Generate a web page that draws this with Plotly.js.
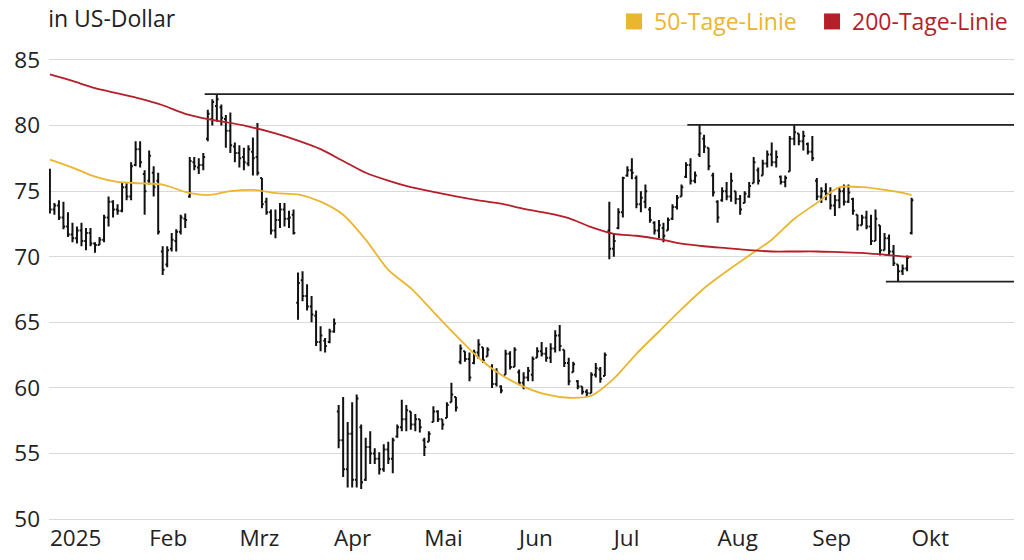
<!DOCTYPE html>
<html><head><meta charset="utf-8">
<script src="https://cdn.plot.ly/plotly-3.0.1.min.js"></script>
<style>html,body{margin:0;padding:0;background:#fff}#chart{width:1024px;height:560px}</style>
</head><body><div id="chart"></div>
<script>
// Trading-day OHLC values, one entry per session from 2 Jan 2025
const opens = [
76.3,73.6,73.9,73.0,72.3,71.7,71.4,72.0,71.2,71.8,
71.0,70.9,71.3,73.0,74.2,73.6,73.5,75.3,74.6,77.0,
78.2,76.3,75.8,76.4,75.8,70.4,69.4,70.6,71.2,71.9,
72.9,74.6,77.2,76.8,77.0,79.0,80.5,81.5,81.4,80.5,
79.6,78.4,77.9,77.6,77.1,78.0,77.6,76.0,74.2,73.4,
72.0,72.8,73.6,72.9,73.2,66.5,68.2,67.0,66.2,65.5,
63.5,63.6,63.5,64.3,
58.2,56.0,53.8,56.5,53.0,57.0,53.0,55.5,55.0,54.6,
53.8,55.3,54.6,56.3,57.0,57.6,58.2,57.2,57.6,56.0,
55.9,57.4,58.2,57.6,57.7,58.9,59.3,
62.0,62.8,62.2,61.9,62.7,63.1,62.4,61.6,60.3,60.1,
61.0,62.6,61.6,61.2,60.4,60.8,61.0,62.3,62.8,62.6,
62.3,63.0,64.0,62.9,61.9,61.2,60.5,60.1,59.7,59.6,
61.0,61.4,60.9,
72.0,70.6,72.2,73.4,76.2,76.6,76.0,74.0,74.2,73.6,
72.6,72.0,72.2,72.0,72.9,73.8,74.6,76.1,77.0,75.8,
77.8,79.0,78.3,76.2,74.2,74.3,75.0,74.6,75.0,74.4,
74.1,74.6,75.6,
76.6,76.2,77.1,77.8,77.2,76.1,75.7,76.5,79.0,79.4,
78.8,78.6,78.0,75.8,74.6,75.0,74.8,73.9,74.3,75.0,
74.2,74.4,73.2,72.4,73.0,72.3,71.2,72.4,70.5,71.4,
70.4,69.4,68.9,69.1,71.8];
const highs = [
76.7,74.1,74.3,74.2,73.4,72.6,72.3,72.6,72.2,72.2,
71.1,71.5,73.2,74.6,74.3,74.0,75.7,75.6,77.2,78.8,
78.8,76.6,78.1,76.9,76.4,70.8,70.8,71.8,72.1,73.2,
73.3,77.6,77.6,77.5,77.9,81.2,82.0,82.4,81.6,80.8,
81.0,78.7,78.5,78.3,78.5,79.1,80.2,76.0,74.5,73.6,
73.6,74.1,74.1,73.5,73.6,68.8,68.9,67.9,67.0,65.9,
64.7,63.8,64.5,65.3,
58.7,59.3,57.4,58.9,59.5,57.2,56.2,56.7,55.4,55.1,
55.7,55.9,56.2,57.2,59.1,58.7,58.2,58.0,57.6,56.2,
56.7,58.6,58.3,57.6,58.9,60.4,59.3,
63.3,62.8,62.7,62.9,63.7,63.1,63.1,61.8,61.5,60.2,
62.9,62.8,63.1,61.4,61.2,61.6,62.4,63.1,63.5,63.1,
63.4,64.4,64.8,62.9,62.3,62.0,60.6,60.1,59.9,61.2,
61.9,61.6,62.7,
74.2,71.8,73.7,76.1,76.9,77.5,76.2,75.0,75.5,73.8,
72.7,72.8,72.6,73.0,74.0,74.7,75.5,77.2,77.5,76.5,
80.05,79.3,78.3,76.4,74.3,75.3,75.7,76.4,75.0,74.7,
75.0,75.7,77.6,
76.8,77.4,78.1,78.7,78.1,76.2,76.2,79.2,80.1,79.4,
79.6,78.7,79.2,76.0,75.3,75.6,75.3,74.7,75.3,75.5,
75.5,74.5,73.2,73.2,73.5,73.2,73.6,72.4,71.8,71.7,
70.9,69.4,69.4,70.1,74.5];
const lows = [
73.3,73.2,72.8,72.1,71.5,71.1,71.0,70.8,70.5,70.8,
70.3,70.9,71.1,72.3,73.0,73.2,73.4,74.3,74.3,76.9,
76.8,73.2,75.5,74.6,71.7,68.6,69.2,70.4,70.4,71.7,
72.2,74.5,76.6,76.3,76.6,78.8,80.0,80.3,80.0,78.3,
77.9,77.2,76.8,76.6,76.9,76.2,76.2,73.7,73.2,71.7,
71.4,72.2,72.3,72.2,71.7,65.2,66.6,65.9,65.0,63.2,
62.8,62.7,63.4,64.2,
55.4,53.2,52.4,52.4,52.4,52.3,52.9,54.2,54.2,53.4,
53.6,54.2,53.5,56.2,56.7,56.7,56.8,56.7,56.6,54.8,
55.9,57.4,57.4,56.8,57.7,58.9,58.2,
61.8,62.0,60.5,61.8,62.2,61.9,62.4,60.0,60.1,59.6,
61.0,61.4,61.6,60.2,59.9,60.5,60.5,62.3,62.4,62.0,
61.9,62.7,62.8,61.6,60.2,61.2,59.9,59.5,59.3,59.6,
60.8,60.4,60.9,
69.8,70.0,72.1,73.0,76.1,75.9,73.7,73.4,73.7,72.6,
71.7,71.4,71.1,72.0,72.8,73.6,74.6,76.0,75.5,75.6,
77.6,77.9,76.6,74.6,72.6,74.2,74.3,74.2,74.0,73.2,
74.1,74.5,75.6,
75.5,76.2,76.8,76.9,76.8,75.5,75.3,76.5,78.5,78.5,
78.1,77.8,77.3,74.3,74.1,74.3,73.6,73.1,73.7,73.9,
74.1,73.2,72.0,72.4,72.1,70.9,71.2,70.1,70.5,70.1,
69.3,68.1,68.6,68.9,71.7];
const closes = [
73.6,73.9,73.0,72.3,71.7,71.4,72.0,71.2,71.8,71.0,
70.9,71.3,73.0,74.2,73.6,73.5,75.3,74.6,76.9,78.2,
77.2,75.0,77.7,75.3,71.9,69.0,70.5,71.3,71.9,73.0,
72.8,77.3,76.9,77.0,77.6,80.9,81.8,82.0,80.6,79.6,
78.5,77.9,77.5,77.2,78.2,77.5,76.4,74.0,73.4,72.0,
72.8,73.6,72.9,73.0,71.8,68.0,67.0,66.2,65.6,63.5,
64.0,63.2,64.3,64.9,
56.0,53.8,56.5,53.0,59.2,52.8,55.5,55.0,54.6,53.8,
55.3,54.6,56.0,57.0,57.6,58.3,57.2,57.6,57.0,55.5,
56.5,58.2,57.6,57.2,58.7,59.5,58.5,
63.0,62.2,60.8,62.7,63.3,62.1,62.9,60.3,61.2,59.8,
62.6,61.6,62.9,60.4,60.8,61.3,62.2,62.8,62.6,62.3,
63.0,64.0,63.2,61.9,60.5,61.8,60.1,59.7,59.6,61.0,
61.5,60.7,62.5,
70.6,71.2,73.4,76.0,76.6,76.4,74.0,74.5,75.0,72.8,
72.0,72.4,71.6,72.8,73.8,74.5,75.3,77.0,75.8,76.2,
79.4,78.4,76.9,74.9,73.0,75.0,74.6,75.8,74.4,73.6,
74.8,75.4,77.2,
75.8,77.1,77.8,77.2,77.6,75.7,76.0,79.0,79.5,78.8,
79.2,78.0,77.5,74.6,75.0,74.8,73.9,74.3,75.0,74.2,
74.9,73.5,72.4,73.0,72.3,71.2,72.9,70.5,71.4,70.4,
69.5,68.9,69.1,69.9,74.3];

// Moving averages, sampled at these session numbers
const maIdx = [0,5,10,15,20,25,30,35,40,45,50,55,60,65,70,75,80,85,90,95,
               100,105,110,115,120,125,130,135,140,145,150,155,160,165,170,175,180,185,190,191];
const ma50 = [77.4,76.8,76.1,75.7,75.6,75.5,74.95,74.7,75.0,75.1,74.85,74.75,74.2,73.2,71.3,69.0,67.6,65.8,64.0,62.3,
              61.0,60.1,59.5,59.25,59.4,60.7,62.6,64.3,66.0,67.6,68.9,70.1,71.3,72.9,74.1,75.3,75.3,75.1,74.8,74.7];
const ma200 = [83.9,83.4,82.85,82.45,82.05,81.55,80.9,80.5,80.2,79.85,79.4,78.85,78.2,77.3,76.4,75.8,75.3,74.95,74.6,74.3,
               74.05,73.65,73.35,72.95,72.25,71.75,71.6,71.35,71.0,70.8,70.65,70.5,70.4,70.4,70.4,70.35,70.3,70.15,70.0,70.0];

const monthLabels = ['2025','Feb','Mrz','Apr','Mai','Jun','Jul','Aug','Sep','Okt'];
const yTicks = [50,55,60,65,70,75,80,85];
const holidays = ['2025-04-18','2025-04-21','2025-05-01'];
// support / resistance levels: session of the extreme and whether it is a high or a low
const levelDays = [37,144,188];
const levelKinds = ['high','high','low'];

const GOLD = '#ebb530', RED = '#b51f29';

// build trading-day dates
const dates = [];
{
  const d = new Date(Date.UTC(2025,0,2));
  while (dates.length < closes.length) {
    const wd = d.getUTCDay();
    const s = d.toISOString().slice(0,10);
    if (wd !== 0 && wd !== 6 && holidays.indexOf(s) < 0) dates.push(s);
    d.setUTCDate(d.getUTCDate()+1);
  }
}
const tickvals = [];
dates.forEach((s,i)=>{ if (i===0 || s.slice(5,7)!==dates[i-1].slice(5,7)) tickvals.push(s); });

const xMax = 213.7;

const traces = [
  {type:'ohlc', x:dates, open:opens, high:highs, low:lows, close:closes,
   increasing:{line:{color:'#111', width:2}}, decreasing:{line:{color:'#111', width:2}},
   tickwidth:0.4, showlegend:false, hoverinfo:'skip'},
  {type:'scatter', mode:'lines', x:maIdx.map(i=>dates[i]), y:ma50, line:{color:GOLD, width:1.8, shape:'spline', smoothing:0.7},
   showlegend:false, hoverinfo:'skip'},
  {type:'scatter', mode:'lines', x:maIdx.map(i=>dates[i]), y:ma200, line:{color:RED, width:1.8, shape:'spline', smoothing:0.7},
   showlegend:false, hoverinfo:'skip'},
  {type:'scatter', mode:'markers', x:[null], y:[null], marker:{symbol:'square', size:18, color:GOLD},
   name:'<span style="color:'+GOLD+'">50-Tage-Linie</span>', hoverinfo:'skip'},
  {type:'scatter', mode:'markers', x:[null], y:[null], marker:{symbol:'square', size:18, color:RED},
   name:'<span style="color:'+RED+'">200-Tage-Linie</span>', hoverinfo:'skip'}
];

const shapes = levelDays.map((ix,k)=>{
  const v = levelKinds[k]==='high' ? highs[ix] : lows[ix];
  return {type:'line', xref:'x', yref:'y', x0:ix-2.7, x1:xMax, y0:v, y1:v, line:{color:'#222', width:1.6}};
});

const FONT = '"Open Sans", "Noto Sans", sans-serif';
const FS = 22.5;
const layout = {
  width:1024, height:560,
  margin:{l:49, r:10, t:46, b:38},
  paper_bgcolor:'#fff', plot_bgcolor:'#fff',
  font:{family:FONT, size:FS, color:'#222'},
  title:{text:'in US-Dollar', xref:'container', x:0.047, xanchor:'left', yref:'container', y:0.967, yanchor:'middle',
         font:{family:FONT, size:23, color:'#222'}},
  showlegend:true,
  legend:{orientation:'h', xref:'paper', x:0.9959, xanchor:'right', yref:'container', y:1.0, yanchor:'top',
          font:{family:FONT, size:23}, bgcolor:'rgba(0,0,0,0)', traceorder:'normal',
          entrywidth:153, entrywidthmode:'pixels'},
  xaxis:{type:'category', range:[-0.2, xMax], tickvals:tickvals, ticktext:monthLabels,
         ticks:'', showgrid:false, zeroline:false, showline:false, ticklabelposition:'outside right',
         tickfont:{family:FONT, size:FS, color:'#222'}, rangeslider:{visible:false}, fixedrange:true},
  yaxis:{range:[49.775, 86.067], tickvals:yTicks, showgrid:true, gridcolor:'#d9d9d9', gridwidth:1,
         zeroline:false, showline:false, ticks:'', ticklabelstandoff:8,
         tickfont:{family:FONT, size:FS, color:'#222'}, fixedrange:true},
  shapes:shapes,
  hovermode:false
};

Plotly.newPlot('chart', traces, layout, {staticPlot:true, displayModeBar:false});
</script>
</body></html>
